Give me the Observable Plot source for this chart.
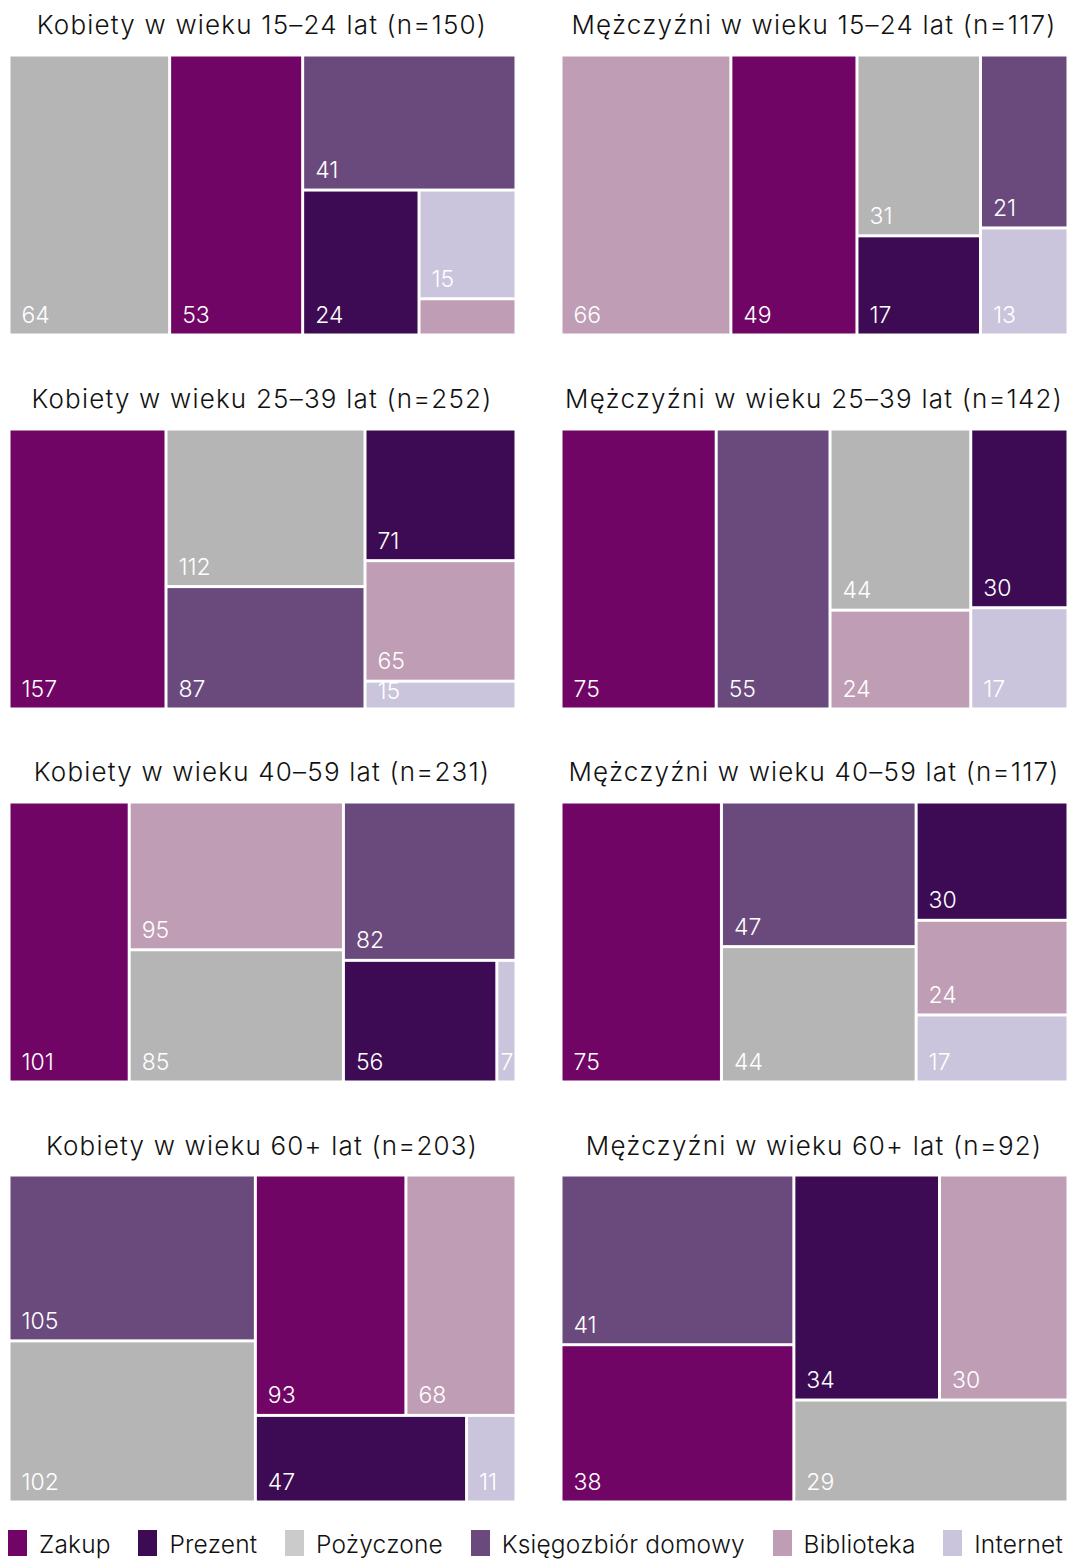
<!DOCTYPE html>
<html lang="pl">
<head>
<meta charset="utf-8">
<script src="https://cdn.jsdelivr.net/npm/d3@7"></script>
<script src="https://cdn.jsdelivr.net/npm/@observablehq/plot@0.6"></script>
<style>
  html, body { margin: 0; padding: 0; background: #fff; }
  #page { position: relative; width: 1067px; height: 1559px; font-family: Inter, "Noto Sans", sans-serif; color: #111; overflow: hidden; }
  .title { position: absolute; width: 507px; text-align: center; font-size: 26px; font-weight: 300; line-height: 28px; white-space: nowrap; letter-spacing: 1.2px; }
  .panel { position: absolute; }
  #legend { position: absolute; left: 8px; right: 4px; top: 1529px; display: flex; justify-content: space-between; font-size: 24.5px; font-weight: 300; line-height: 30px; letter-spacing: 0.2px; }
  .item { display: flex; align-items: flex-end; white-space: nowrap; }
  .sw { width: 19px; height: 26px; margin-right: 12px; margin-bottom: 3px; }
</style>
</head>
<body>
<div id="page"></div>
<script>
// ---- data ----
const categories = ["Zakup", "Prezent", "Pożyczone", "Księgozbiór domowy", "Biblioteka", "Internet"];
const colors = ["#700565", "#3c0b54", "#b5b5b5", "#6a4a7d", "#bf9db5", "#cac5dc"];

const titles = [
  "Kobiety w wieku 15–24 lat (n=150)", "Mężczyźni w wieku 15–24 lat (n=117)",
  "Kobiety w wieku 25–39 lat (n=252)", "Mężczyźni w wieku 25–39 lat (n=142)",
  "Kobiety w wieku 40–59 lat (n=231)", "Mężczyźni w wieku 40–59 lat (n=117)",
  "Kobiety w wieku 60+ lat (n=203)", "Mężczyźni w wieku 60+ lat (n=92)"
];

// values in category order: Zakup, Prezent, Pożyczone, Księgozbiór domowy, Biblioteka, Internet
const women15_24 = [53, 24, 64, 41, 5, 15];   // Biblioteka tile unlabeled in source (estimated)
const men15_24   = [49, 17, 31, 21, 66, 13];
const women25_39 = [157, 71, 112, 87, 65, 15];
const men25_39   = [75, 30, 44, 55, 24, 17];
const women40_59 = [101, 56, 85, 82, 95, 7];
const men40_59   = [75, 30, 44, 47, 24, 17];
const women60    = [93, 47, 102, 105, 68, 11];
const men60      = [38, 34, 29, 41, 30, 0];
const unlabeled  = [[0, 4]]; // [panel index, category index] with no number shown

// grouping of tiles (category indices), as arranged in the source
const groups = [
  [2, 0, [3, [1, [5, 4]]]],
  [4, 0, [2, 1], [3, 5]],
  [0, [2, 3], [1, 4, 5]],
  [0, 3, [2, 4], [1, 5]],
  [0, [4, 2], [3, [1, 5]]],
  [0, [3, 2], [1, 4, 5]],
  [[3, 2], [[0, 4], [1, 5]]],
  [[3, 0], [[1, 4], 2]]
];
const panelValues = [women15_24, men15_24, women25_39, men25_39, women40_59, men40_59, women60, men60];

// ---- drawing ----
const page = document.getElementById("page");
const W = 507;
const colLeft = [8.5, 560.5];
const rowTop = [54.5, 428.5, 801.5, 1174.5];
const rowH = [280, 280, 280, 327];
const titleTop = [11, 385, 758, 1132];

const tile = (node, x0, y0, x1, y1) =>
  (x1 - x0 > y1 - y0 ? d3.treemapDice : d3.treemapSlice)(node, x0, y0, x1, y1);

const labelFont = {fill: "white", fontSize: 23, fontWeight: 300, fontFamily: "Inter, sans-serif"};

panelValues.forEach((values, p) => {
  const col = p % 2, row = Math.floor(p / 2);
  const H = rowH[row];
  const build = n => Array.isArray(n) ? {children: n.map(build)} : {cat: n, value: values[n]};
  const root = d3.hierarchy(build(groups[p])).sum(d => d.value || 0);
  d3.treemap().size([W, H]).tile(tile).round(false)(root);
  const leaves = root.leaves().filter(d => d.data.value > 0).map(d => ({
    x0: d.x0, x1: d.x1, y0: d.y0, y1: d.y1, xm: (d.x0 + d.x1) / 2,
    cat: categories[d.data.cat], value: d.data.value,
    labeled: !unlabeled.some(([pp, c]) => pp === p && c === d.data.cat)
  }));
  const lab = leaves.filter(d => d.labeled);
  const narrow = lab.filter(d => d.x1 - d.x0 < 40);
  const big = lab.filter(d => d.x1 - d.x0 >= 40 && d.y1 - d.y0 >= 40);
  const small = lab.filter(d => d.x1 - d.x0 >= 40 && d.y1 - d.y0 < 40);

  const chart = Plot.plot({
    width: W, height: H, margin: 0,
    style: {background: "#fff", overflow: "visible"},
    x: {domain: [0, W], range: [0, W], axis: null},
    y: {domain: [0, H], range: [0, H], axis: null},
    color: {domain: categories, range: colors},
    marks: [
      Plot.rect(leaves, {x1: "x0", x2: "x1", y1: "y0", y2: "y1", fill: "cat", inset: 1.5}),
      Plot.text(big, {x: "x0", y: "y1", text: d => String(d.value),
        textAnchor: "start", lineAnchor: "bottom", dx: 12, dy: -12.5, ...labelFont}),
      Plot.text(small, {x: "x0", y: "y0", text: d => String(d.value),
        textAnchor: "start", lineAnchor: "top", dx: 12, dy: 1, ...labelFont}),
      Plot.text(narrow, {x: "xm", y: "y1", text: d => String(d.value),
        textAnchor: "middle", lineAnchor: "bottom", dy: -12.5, ...labelFont})
    ]
  });
  chart.classList.add("panel");
  chart.style.left = colLeft[col] + "px";
  chart.style.top = rowTop[row] + "px";
  page.appendChild(chart);

  const t = document.createElement("div");
  t.className = "title";
  t.textContent = titles[p];
  t.style.left = colLeft[col] + "px";
  t.style.top = titleTop[row] + "px";
  page.appendChild(t);
});

// legend
const legend = document.createElement("div");
legend.id = "legend";
categories.forEach((c, i) => {
  const item = document.createElement("div");
  item.className = "item";
  const sw = document.createElement("span");
  sw.className = "sw";
  sw.style.background = i === 2 ? "#cbcbcb" : colors[i];
  const lab = document.createElement("span");
  lab.textContent = c;
  item.appendChild(sw); item.appendChild(lab);
  legend.appendChild(item);
});
page.appendChild(legend);
</script>
</body>
</html>
